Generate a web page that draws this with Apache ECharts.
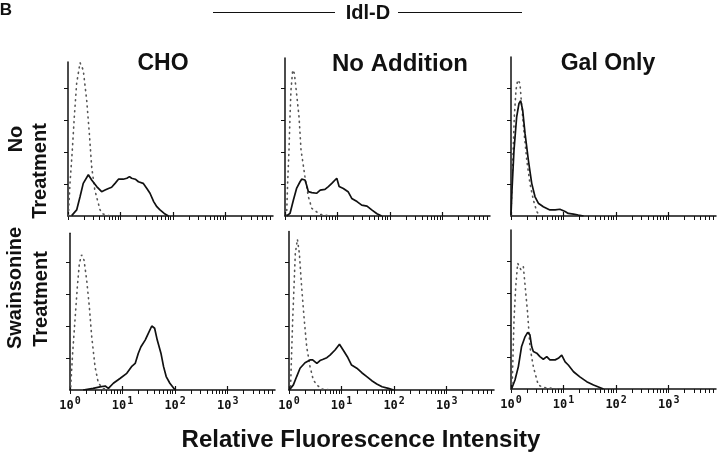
<!DOCTYPE html>
<html><head><meta charset="utf-8">
<script src="https://cdn.jsdelivr.net/npm/echarts@6/dist/echarts.min.js"></script>
<style>html,body{margin:0;padding:0;background:#fff}#c{width:720px;height:455px}</style>
</head><body><div id="c"></div>
<script>
// x values are log10 of relative fluorescence (decades), y values are relative cell counts
const tickBases = ['10', '10', '10', '10'];
const tickExponents = ['0', '1', '2', '3'];
const columnTitles = ['CHO', 'No Addition', 'Gal Only'];
const rowTitles = [['No', 'Treatment'], ['Swainsonine', 'Treatment']];
const groupTitle = 'Idl-D';
const axisTitle = 'Relative Fluorescence Intensity';

const choNoTxControl = [[0.006,0],[0.038,1.02],[0.082,2.06],[0.12,3.1],[0.165,4.15],[0.229,4.79],[0.29,4.56],[0.355,3.63],[0.406,2.58],[0.45,1.54],[0.51,0.81],[0.61,0.19],[0.67,0.06],[0.8,0]];
const choNoTx = [[0.07,0.01],[0.165,0.19],[0.229,0.6],[0.29,1.02],[0.387,1.29],[0.45,1.125],[0.546,0.92],[0.64,0.76],[0.705,0.81],[0.77,0.86],[0.83,0.9],[0.895,1.02],[0.96,1.15],[1.05,1.15],[1.12,1.18],[1.17,1.23],[1.21,1.18],[1.28,1.15],[1.34,1.07],[1.43,1.02],[1.5,0.86],[1.56,0.71],[1.63,0.45],[1.69,0.29],[1.75,0.19],[1.83,0.08],[1.91,0]];

const noAddNoTxControl = [[0.03,0],[0.05,1.02],[0.076,2.06],[0.095,3.1],[0.114,3.94],[0.146,4.56],[0.178,4.46],[0.22,3.83],[0.267,3.1],[0.305,2.06],[0.38,1.23],[0.445,0.6],[0.51,0.24],[0.67,0.05],[0.85,0]];
const noAddNoTx = [[0.03,0],[0.095,0.08],[0.16,0.5],[0.22,0.86],[0.286,1.07],[0.317,1.15],[0.38,1.125],[0.41,0.97],[0.445,0.76],[0.51,0.73],[0.6,0.71],[0.67,0.81],[0.76,0.83],[0.825,0.92],[0.89,1.02],[0.92,0.97],[0.985,1.18],[1.03,0.92],[1.11,0.86],[1.2,0.76],[1.27,0.55],[1.37,0.45],[1.46,0.34],[1.56,0.31],[1.65,0.19],[1.75,0.07],[1.84,0]];

const galNoTxControl = [[0.0,0.03],[0.03,1.54],[0.063,3.1],[0.095,3.94],[0.127,4.25],[0.17,4.15],[0.2,3.52],[0.25,2.58],[0.3,1.75],[0.36,1.02],[0.425,0.5],[0.49,0.14],[0.55,0],[0.75,0]];
const galNoTx = [[0.0,0.03],[0.019,0.81],[0.057,2.06],[0.108,3.1],[0.152,3.52],[0.184,3.6],[0.222,3.31],[0.267,2.58],[0.33,1.75],[0.394,1.02],[0.457,0.6],[0.52,0.4],[0.615,0.29],[0.74,0.19],[0.84,0.19],[0.93,0.21],[1.03,0.14],[1.09,0.08],[1.19,0.06],[1.28,0.03],[1.38,0]];

const choSwControl = [[0.013,0.1],[0.05,1.15],[0.095,2.19],[0.14,3.23],[0.178,3.96],[0.22,4.22],[0.267,4.06],[0.317,3.44],[0.368,2.6],[0.413,1.67],[0.476,0.73],[0.54,0.21],[0.63,0.05],[0.8,0]];
const choSw = [[0.25,0],[0.44,0.05],[0.57,0.1],[0.67,0.125],[0.73,0.05],[0.825,0.21],[0.95,0.36],[1.08,0.52],[1.17,0.73],[1.24,0.83],[1.3,1.15],[1.35,1.35],[1.43,1.56],[1.49,1.77],[1.556,2.0],[1.61,1.93],[1.66,1.56],[1.73,1.15],[1.78,0.73],[1.83,0.42],[1.9,0.21],[2.0,0]];

const noAddSwControl = [[0.03,0.1],[0.05,1.15],[0.07,2.19],[0.095,3.23],[0.12,4.27],[0.16,4.71],[0.197,4.27],[0.24,3.23],[0.29,2.19],[0.337,1.35],[0.4,0.73],[0.463,0.31],[0.53,0.16],[0.62,0.03],[0.8,0]];
const noAddSw = [[0.006,0],[0.083,0.16],[0.146,0.42],[0.21,0.68],[0.305,0.85],[0.4,0.94],[0.45,0.94],[0.53,0.83],[0.59,0.92],[0.65,0.96],[0.72,1.01],[0.78,1.09],[0.876,1.25],[0.96,1.43],[1.03,1.25],[1.11,1.04],[1.19,0.78],[1.29,0.68],[1.385,0.54],[1.48,0.42],[1.575,0.29],[1.67,0.19],[1.77,0.1],[1.89,0.05],[1.99,0]];

const galSwControl = [[0.0,0],[0.025,0.28],[0.057,2.16],[0.09,3.2],[0.127,3.93],[0.16,3.98],[0.19,3.72],[0.235,3.82],[0.27,3.2],[0.317,2.36],[0.36,1.32],[0.425,0.7],[0.476,0.38],[0.52,0.125],[0.61,0.05],[0.9,0]];
const galSw = [[0.01,0],[0.076,0.28],[0.14,0.7],[0.2,1.32],[0.267,1.63],[0.317,1.77],[0.36,1.69],[0.394,1.32],[0.425,1.17],[0.49,1.12],[0.55,1.01],[0.615,0.93],[0.68,1.01],[0.74,0.91],[0.84,0.91],[0.9,0.96],[0.965,1.06],[1.03,0.85],[1.09,0.75],[1.19,0.54],[1.31,0.38],[1.44,0.23],[1.57,0.125],[1.7,0.04],[1.76,0]];

const panelData = [
  [choNoTxControl, choNoTx], [noAddNoTxControl, noAddNoTx], [galNoTxControl, galNoTx],
  [choSwControl, choSw], [noAddSwControl, noAddSw], [galSwControl, galSw]
];

// layout (pixels)
const layout = [
  {left:68, base:216, yMax:4.81, labels:false},
  {left:285, base:216, yMax:4.94, labels:false},
  {left:511, base:216, yMax:4.97, labels:false},
  {left:70, base:390, yMax:4.9, labels:true},
  {left:289, base:390, yMax:4.95, labels:true},
  {left:511, base:389, yMax:4.97, labels:true}
];
const pxPerUnit = 32, xMax = 3.9, gridWidth = 205;

const minorTicks = [];
for (let d = 0; d < 4; d++) for (let k = 1; k <= 9; k++) {
  const v = d + Math.log10(k);
  if (v <= xMax) minorTicks.push(v);
}
const ink = '#111';
const mono = '"DejaVu Sans Mono", monospace';
const grids = [], xAxes = [], yAxes = [], series = [];
layout.forEach((p, i) => {
  const h = p.yMax * pxPerUnit;
  grids.push({left:p.left, top:p.base - h, width:gridWidth, height:h, containLabel:false, outerBoundsMode:'none'});
  xAxes.push({gridIndex:i, type:'value', min:0, max:xMax, position:'bottom', offset:0,
    axisLine:{show:true, onZero:false, lineStyle:{color:ink, width:1.5}},
    axisTick:{show:true, inside:false, length:4, customValues:minorTicks, lineStyle:{color:ink, width:1}},
    axisLabel:{show:p.labels, customValues:[0,1,2,3],
      formatter:(v)=>{const k=Math.round(v); return '{a|'+tickBases[k]+'}{s|'+tickExponents[k]+'}';},
      margin:6,
      rich:{a:{fontFamily:mono, fontWeight:'bold', fontSize:12, color:ink, padding:[4,1,0,0]},
            s:{fontFamily:mono, fontWeight:'bold', fontSize:10, color:ink, padding:[0,0,6,0]}}},
    splitLine:{show:false}});
  xAxes.push({gridIndex:i, type:'value', min:0, max:xMax, position:'bottom', offset:0,
    axisLine:{show:false},
    axisTick:{show:true, inside:true, length:4, customValues:[0,1,2,3], lineStyle:{color:ink, width:1.2}},
    axisLabel:{show:false}, splitLine:{show:false}});
  yAxes.push({gridIndex:i, type:'value', min:0, max:p.yMax,
    axisLine:{show:true, onZero:false, lineStyle:{color:ink, width:1.5}},
    axisTick:{show:true, inside:false, length:4, customValues:[1,2,3,4], lineStyle:{color:ink, width:1}},
    axisLabel:{show:false}, splitLine:{show:false}});
  const [ctrl, main] = panelData[i];
  series.push({type:'line', xAxisIndex:2*i, yAxisIndex:i, data:ctrl, symbol:'none', smooth:false,
    lineStyle:{color:'#555', width:1.6, type:[1,4.5], cap:'round'}, z:3});
  series.push({type:'line', xAxisIndex:2*i, yAxisIndex:i, data:main, symbol:'none', smooth:false,
    lineStyle:{color:ink, width:1.7}, z:4});
});

const bold = (size) => 'bold ' + size + 'px "Liberation Sans", Arial, sans-serif';
const txt = (text, x, y, size, rot) => ({type:'text', x, y, rotation:rot||0,
  style:{text, font:bold(size), fill:ink, align:'center', verticalAlign:'middle'}});
const graphic = [
  txt('B', 6, 10, 17),
  txt(groupTitle, 368, 13, 20),
  {type:'line', shape:{x1:213, y1:12.5, x2:335, y2:12.5}, style:{stroke:'#111', lineWidth:1.1}},
  {type:'line', shape:{x1:398, y1:12.5, x2:522, y2:12.5}, style:{stroke:'#111', lineWidth:1.1}},
  txt(columnTitles[0], 163, 64, 23),
  txt(columnTitles[1], 400, 64, 24),
  txt(columnTitles[2], 608, 64, 23),
  txt(rowTitles[0][0], 16, 139, 20, Math.PI/2),
  txt(rowTitles[0][1], 40, 171, 20, Math.PI/2),
  txt(rowTitles[1][0], 15, 288, 20, Math.PI/2),
  txt(rowTitles[1][1], 41, 299, 20, Math.PI/2),
  txt(axisTitle, 361, 440, 24)
];

const chart = echarts.init(document.getElementById('c'), null, {renderer:'canvas'});
chart.setOption({animation:false, backgroundColor:'#fff', grid:grids, xAxis:xAxes, yAxis:yAxes, series, graphic});
</script></body></html>
